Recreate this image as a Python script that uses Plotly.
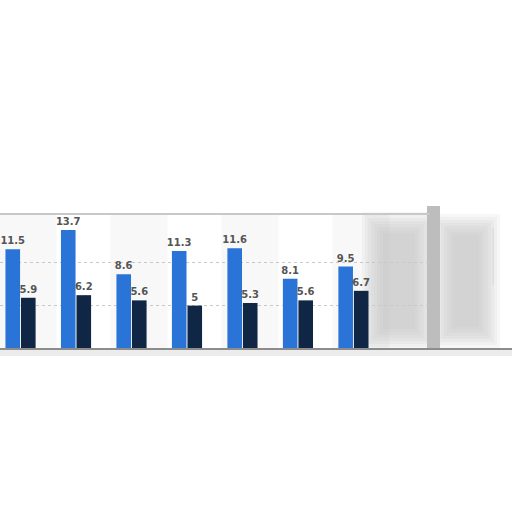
import plotly.graph_objects as go

# values (two series, seven groups)
groups = [0, 1, 2, 3, 4, 5, 6]
series_a = [11.5, 13.7, 8.6, 11.3, 11.6, 8.1, 9.5]
series_b = [5.9, 6.2, 5.6, 5.0, 5.3, 5.6, 6.7]

W = H = 512
L, R, T, B = 0, 430, 214, 349  # plot area in pixels


def px(x):
    return (x - L) / (R - L)


def py(y):
    return (B - y) / (B - T)


def soft_rect(x0, x1, y0, y1, color, steps=8, inset=3, alpha=0.12):
    # stacked translucent rects to fake a blurred patch
    out = []
    for i in range(steps):
        d = i * inset
        out.append(dict(type="rect", xref="paper", yref="paper", layer="below",
                        x0=px(x0 + d), x1=px(x1 - d), y0=py(y1 - d), y1=py(y0 + d),
                        fillcolor=color, line_width=0, opacity=alpha))
    return out


fig = go.Figure()

for vals, color in [(series_a, "#2a74d8"), (series_b, "#0f2744")]:
    fig.add_trace(go.Bar(
        x=groups, y=vals, marker_color=color, marker_line_width=0,
        text=[f"{v:g}" for v in vals], textposition="outside",
        cliponaxis=False, constraintext="none",
        textfont=dict(family="DejaVu Sans", size=10, color="#555555",
                      weight="bold"),
    ))

shapes = []
# faint column shading behind every other group
for g in groups[::2]:
    shapes.append(dict(type="rect", xref="x", yref="paper", layer="below",
                       x0=g - 0.38, x1=g + 0.65, y0=0, y1=1,
                       fillcolor="#f8f8f8", line_width=0))
# blurred grey smear on the right of the plot
shapes += soft_rect(362, 436, 212, 350, "#c0c0c0")
shapes += soft_rect(432, 500, 214, 348, "#bcbcbc")
shapes.append(dict(type="rect", xref="paper", yref="paper", layer="below",
                   x0=px(427), x1=px(440), y0=py(350), y1=py(206),
                   fillcolor="#bdbdbd", line_width=0))
shapes.append(dict(type="line", xref="paper", yref="paper",
                   x0=px(493), x1=px(493), y0=py(285), y1=py(228),
                   line=dict(color="#e0e0e0", width=2)))
# top border and baseline
shapes.append(dict(type="line", xref="paper", yref="paper",
                   x0=0, x1=px(430), y0=py(214), y1=py(214),
                   line=dict(color="#c8c8c8", width=2)))
shapes.append(dict(type="rect", xref="paper", yref="paper", layer="below",
                   x0=0, x1=px(512), y0=py(356), y1=py(350),
                   fillcolor="#ececec", line_width=0))
shapes.append(dict(type="line", xref="paper", yref="paper",
                   x0=0, x1=px(512), y0=py(349), y1=py(349),
                   line=dict(color="#8c8c8c", width=2)))

fig.update_layout(
    width=W, height=H,
    margin=dict(l=L, r=W - R, t=T, b=H - B, pad=0),
    paper_bgcolor="white", plot_bgcolor="white",
    barmode="group", bargap=0.44, bargroupgap=0.06,
    showlegend=False, shapes=shapes,
    xaxis=dict(range=[-0.37, 7.38], showticklabels=False, showgrid=False,
               zeroline=False, fixedrange=True),
    yaxis=dict(range=[0, 15.55], tickvals=[5, 10], showticklabels=False,
               showgrid=True, gridcolor="#c8c8c8", griddash="dot", gridwidth=1,
               zeroline=False, fixedrange=True),
)

fig.write_html("out.html", config={"displayModeBar": False},
               post_script="document.body.style.margin='0';")
